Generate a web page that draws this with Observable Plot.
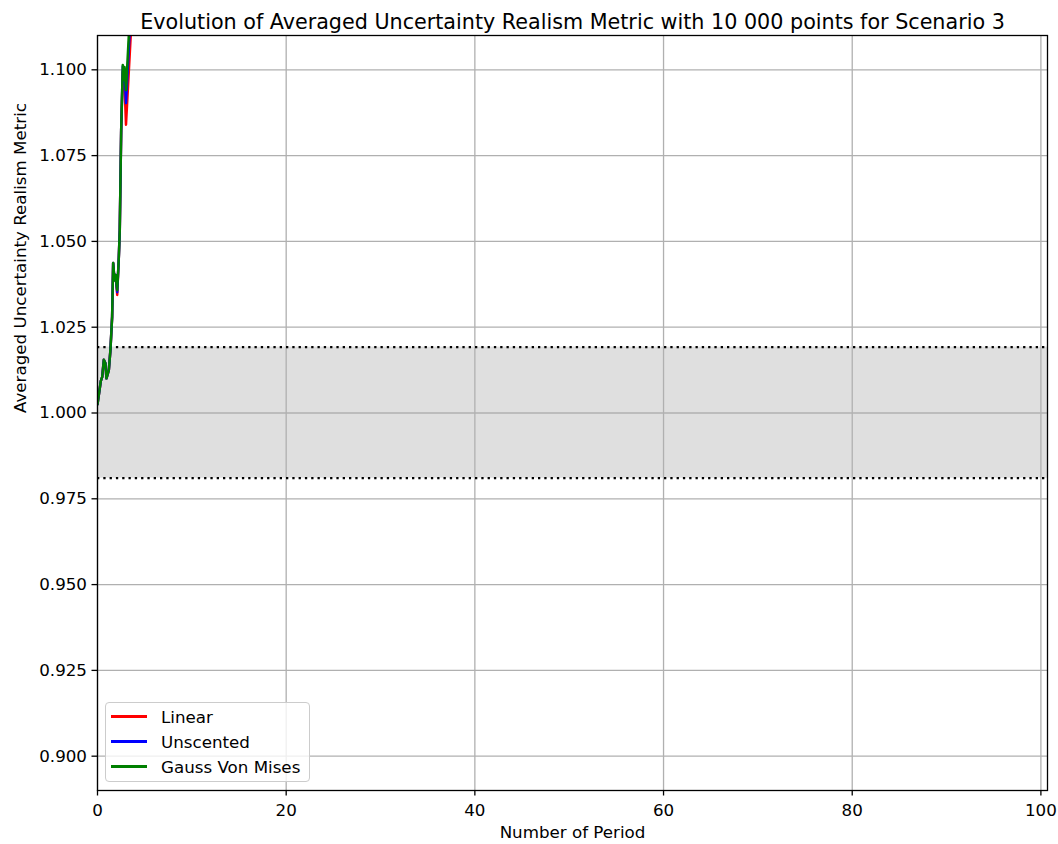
<!DOCTYPE html>
<html>
<head>
<meta charset="utf-8">
<script src="https://cdn.jsdelivr.net/npm/d3@7"></script>
<script src="https://cdn.jsdelivr.net/npm/@observablehq/plot@0.6"></script>
<style>
  html, body { margin: 0; padding: 0; background: #fff; }
  #chart { position: relative; width: 1058px; height: 844px; font-family: "DejaVu Sans", sans-serif; }
  #legend {
    position: absolute; left: 105px; top: 702px; width: 203px; height: 78px;
    border: 1.3px solid #cccccc; border-radius: 4px; background: rgba(255,255,255,0.8);
    font-size: 16.7px; color: #000;
  }
  #legend .row { position: absolute; left: 0; height: 25px; display: flex; align-items: center; }
  #legend .swatch { width: 36px; height: 2.5px; margin-left: 5px; margin-right: 14px; }
</style>
</head>
<body>
<div id="chart"><div id="legend"></div></div>
<script>
// Averaged uncertainty realism metric per period (only the first periods fall inside the view)
const periods       = [0, 0.35, 0.5, 0.67, 0.84, 0.95, 1.2, 1.37, 1.55, 1.66, 1.8, 1.91, 2.09, 2.26, 2.36, 2.51, 2.68, 2.79, 2.86, 3.02, 3.6];
const linear        = [1.0025, 1.0093, 1.0105, 1.0155, 1.0145, 1.0101, 1.0125, 1.0183, 1.028, 1.0437, 1.0387, 1.0402, 1.0344, 1.0454, 1.0533, 1.0824, 1.0995, 1.0945, 1.0965, 1.0840, 1.114];
const unscented     = [1.0025, 1.0093, 1.0105, 1.0155, 1.0145, 1.0101, 1.0125, 1.0183, 1.028, 1.0437, 1.0387, 1.0402, 1.0352, 1.0454, 1.0533, 1.0824, 1.1010, 1.0965, 1.1000, 1.0903, 1.121];
const gaussVonMises = [1.0025, 1.0093, 1.0105, 1.0155, 1.0145, 1.0101, 1.0125, 1.0183, 1.028, 1.0437, 1.0387, 1.0402, 1.0358, 1.0454, 1.0533, 1.0824, 1.1014, 1.0970, 1.1008, 1.0941, 1.125];

const seriesNames  = ["Linear", "Unscented", "Gauss Von Mises"];
const seriesColors = ["red", "blue", "green"];
const seriesValues = [linear, unscented, gaussVonMises];

// Acceptance band of the metric
const bandLow  = 0.981;
const bandHigh = 1.0192;

const xTicks = [0, 20, 40, 60, 80, 100];
const yTicks = [0.900, 0.925, 0.950, 0.975, 1.000, 1.025, 1.050, 1.075, 1.100];
const xDomain = [0, 100.7];
const yDomain = [0.89, 1.11];

const titleText  = "Evolution of Averaged Uncertainty Realism Metric with 10 000 points for Scenario 3";
const xLabelText = "Number of Period";
const yLabelText = "Averaged Uncertainty Realism Metric";

const rows = seriesNames.flatMap((name, i) =>
  periods.map((p, j) => ({series: name, period: p, value: seriesValues[i][j]}))
);

const gridStyle = {stroke: "#b0b0b0", strokeOpacity: 1, strokeWidth: 1.3};

const chart = Plot.plot({
  width: 1058,
  height: 844,
  marginLeft: 97,
  marginRight: 11,
  marginTop: 35,
  marginBottom: 54,
  style: {fontFamily: "DejaVu Sans, sans-serif", fontSize: "16.7px", color: "black", background: "white"},
  x: {domain: xDomain},
  y: {domain: yDomain},
  color: {domain: seriesNames, range: seriesColors},
  marks: [
    Plot.rect([{x1: xDomain[0], x2: xDomain[1], y1: bandLow, y2: bandHigh}],
      {x1: "x1", x2: "x2", y1: "y1", y2: "y2", fill: "#dfdfdf"}),
    Plot.gridX(xTicks, gridStyle),
    Plot.gridY(yTicks, gridStyle),
    Plot.ruleY([bandLow, bandHigh], {stroke: "black", strokeWidth: 2.3, strokeDasharray: "2.3,4"}),
    Plot.line(rows, {x: "period", y: "value", z: "series", stroke: "series", strokeWidth: 2.5, clip: true}),
    Plot.frame({stroke: "black", strokeWidth: 1.3}),
    Plot.axisX({ticks: xTicks, tickSize: 5.5, tickPadding: 8, tickFormat: d3.format("d"), label: null, strokeWidth: 1.3, fontSize: 16.7}),
    Plot.axisY({ticks: yTicks, tickSize: 5.5, tickPadding: 5, tickFormat: d3.format(".3f"), label: null, strokeWidth: 1.3, fontSize: 16.7}),
    Plot.text([titleText], {text: d => d, frameAnchor: "top", dy: -21, fontSize: 20.7}),
    Plot.text([xLabelText], {text: d => d, frameAnchor: "bottom", dy: 47, fontSize: 16.7}),
    Plot.text([yLabelText], {text: d => d, frameAnchor: "left", dx: -77, rotate: -90, fontSize: 16.7})
  ]
});

const container = document.getElementById("chart");
container.insertBefore(chart, container.firstChild);

// Legend box
const legend = document.getElementById("legend");
seriesNames.forEach((name, i) => {
  const row = document.createElement("div");
  row.className = "row";
  row.style.top = (1 + i * 25) + "px";
  const sw = document.createElement("div");
  sw.className = "swatch";
  sw.style.background = seriesColors[i];
  const label = document.createElement("span");
  label.textContent = name;
  row.appendChild(sw);
  row.appendChild(label);
  legend.appendChild(row);
});
</script>
</body>
</html>
